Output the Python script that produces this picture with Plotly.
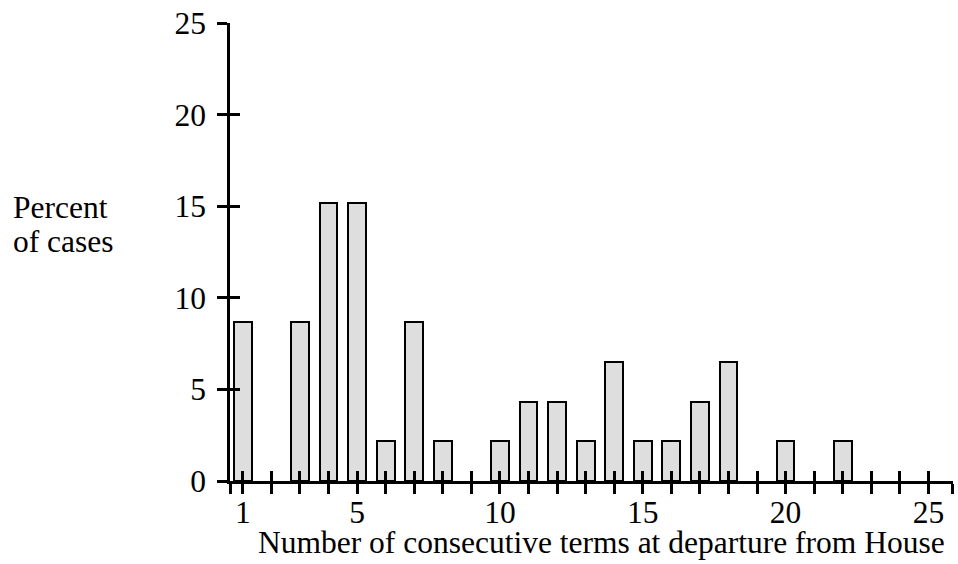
import plotly.graph_objects as go

# Data
terms = [1, 3, 4, 5, 6, 7, 8, 10, 11, 12, 13, 14, 15, 16, 17, 18, 20, 22]
percent = [8.7, 8.7, 15.2, 15.2, 2.2, 8.7, 2.2, 2.2, 4.3, 4.3, 2.2, 6.5, 2.2, 2.2, 4.3, 6.5, 2.2, 2.2]

x_tick_positions = list(range(1, 26))
x_tick_labels = ["1", "5", "10", "15", "20", "25"]
y_ticks = [0, 5, 10, 15, 20, 25]

x_title = "Number of consecutive terms at departure from House"
y_title_lines = ["Percent", "of cases"]

FONT = "Liberation Serif, Times New Roman, serif"
FS = 31.5

W, H = 958, 564
ML, MR, MT, MB = 230, 5, 23, 83
PW, PH = W - ML - MR, H - MT - MB

xr = [0.55, 25.86]
yr = [0, 25]

xtext = [str(v) if str(v) in x_tick_labels else "" for v in x_tick_positions]
# crossing ticks also at both ends of the x axis line
xvals = [xr[0] + 0.01] + x_tick_positions + [xr[1] - 0.01]
xtext = [""] + xtext + [""]


def px_x(p):
    return (p - ML) / PW


def px_y(p):
    return (H - MB - p) / PH


fig = go.Figure()
fig.add_trace(go.Bar(
    x=terms, y=percent, width=0.62,
    marker=dict(color="#dedede", line=dict(color="black", width=2)),
    showlegend=False, hoverinfo="x+y",
))
# dummy trace so that the overlaying axes (inner half of the crossing ticks) exist
fig.add_trace(go.Scatter(x=[None], y=[None], xaxis="x2", yaxis="y2",
                         showlegend=False, hoverinfo="skip"))

axis_common = dict(showgrid=False, zeroline=False, tickcolor="black",
                   tickwidth=2.5, ticklen=10, fixedrange=True)

fig.update_layout(
    width=W, height=H,
    margin=dict(l=ML, r=MR, t=MT, b=MB),
    paper_bgcolor="white", plot_bgcolor="white",
    font=dict(family=FONT, size=FS, color="black"),
    xaxis=dict(range=xr, tickmode="array", tickvals=xvals, ticktext=xtext,
               ticks="outside", showline=True, linecolor="black", linewidth=2.5,
               ticklabelstandoff=-9,
               tickfont=dict(family=FONT, size=FS), **axis_common),
    yaxis=dict(range=yr, tickmode="array", tickvals=y_ticks,
               ticktext=[str(v) for v in y_ticks],
               ticks="outside", showline=True, linecolor="black", linewidth=2.5,
               ticklabelstandoff=5,
               tickfont=dict(family=FONT, size=FS), **axis_common),
    xaxis2=dict(range=xr, overlaying="x", anchor="y2", side="bottom",
                tickmode="array", tickvals=xvals, ticks="inside",
                showticklabels=False, showline=False, **axis_common),
    yaxis2=dict(range=yr, overlaying="y", anchor="x2", side="left",
                tickmode="array", tickvals=y_ticks, ticks="inside",
                showticklabels=False, showline=False, **axis_common),
    bargap=0,
)

for line, cy in zip(y_title_lines, [207, 241]):
    fig.add_annotation(text=line, xref="paper", yref="paper",
                       x=px_x(11), y=px_y(cy),
                       xanchor="left", yanchor="middle", align="left",
                       showarrow=False, font=dict(family=FONT, size=FS))
fig.add_annotation(text=x_title, xref="paper", yref="paper",
                   x=px_x(601), y=px_y(542),
                   xanchor="center", yanchor="middle",
                   showarrow=False, font=dict(family=FONT, size=FS))

fig.write_html("out.html", config={"displayModeBar": False},
               post_script="document.body.style.margin='0';")
